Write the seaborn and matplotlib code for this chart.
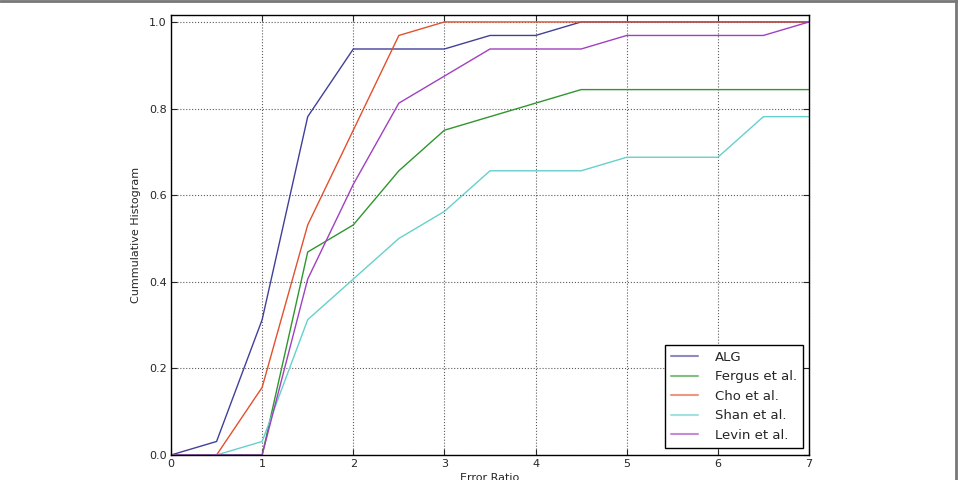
import matplotlib
matplotlib.use("Agg")
import matplotlib.pyplot as plt
import seaborn as sns
import pandas as pd
from matplotlib.lines import Line2D

x_vals = [0, 0.5, 1, 1.5, 2, 2.5, 3, 3.5, 4, 4.5, 5, 5.5, 6, 6.5, 7]
alg = [0, 0.03125, 0.3125, 0.78125, 0.9375, 0.9375, 0.9375, 0.96875, 0.96875, 1, 1, 1, 1, 1, 1]
fergus = [0, 0, 0, 0.46875, 0.53125, 0.65625, 0.75, 0.78125, 0.8125, 0.84375, 0.84375, 0.84375, 0.84375, 0.84375, 0.84375]
cho = [0, 0, 0.15625, 0.53125, 0.75, 0.96875, 1, 1, 1, 1, 1, 1, 1, 1, 1]
shan = [0, 0, 0.03125, 0.3125, 0.40625, 0.5, 0.5625, 0.65625, 0.65625, 0.65625, 0.6875, 0.6875, 0.6875, 0.78125, 0.78125]
levin = [0, 0, 0, 0.40625, 0.625, 0.8125, 0.875, 0.9375, 0.9375, 0.9375, 0.96875, 0.96875, 0.96875, 0.96875, 1]

series_names = ["ALG", "Fergus et al.", "Cho et al.", "Shan et al.", "Levin et al."]
series_values = [alg, fergus, cho, shan, levin]
colors = ["#40409a", "#2f962f", "#e2502e", "#66d0cc", "#a040c0"]
x_ticks = [0, 1, 2, 3, 4, 5, 6, 7]
y_ticks = [0.0, 0.2, 0.4, 0.6, 0.8, 1.0]

rows = []
for name, vals in zip(series_names, series_values):
    for xv, yv in zip(x_vals, vals):
        rows.append({"x": xv, "y": yv, "method": name})
df = pd.DataFrame(rows)

sns.set_style("ticks")
plt.rcParams["font.family"] = ["DejaVu Sans"]

fig = plt.figure(figsize=(9.58, 4.8), dpi=100)
ax = fig.add_axes([171 / 958, 1 - 455 / 480, (809 - 171) / 958, (455 - 15) / 480])

sns.lineplot(data=df, x="x", y="y", hue="method", palette=dict(zip(series_names, colors)),
             hue_order=series_names, ax=ax, linewidth=1.0, legend=False)

ax.set_xlim(0, 7)
ax.set_ylim(0, 1.016)
ax.set_xticks(x_ticks)
ax.set_yticks(y_ticks)
ax.set_xticklabels([str(t) for t in x_ticks])
ax.set_yticklabels([f"{t:.1f}" for t in y_ticks])
ax.grid(True, linestyle=":", color="#333333", linewidth=0.8, alpha=0.8)
ax.tick_params(direction="in", length=4, width=0.8, labelsize=8, top=True, right=True, pad=3)
for s in ax.spines.values():
    s.set_linewidth(1.0)
    s.set_color("black")
ax.set_xlabel("Error Ratio", fontsize=8, labelpad=3)
ax.set_ylabel("Cummulative Histogram", fontsize=8, labelpad=6)

handles = [Line2D([0], [0], color=c, lw=1.5, alpha=0.6) for c in colors]
leg = ax.legend(handles, series_names, loc="lower right", fontsize=9.5, frameon=True,
                fancybox=False, framealpha=1, edgecolor="black", borderpad=0.45,
                labelspacing=0.5, handlelength=2.0, handletextpad=1.3,
                borderaxespad=0, bbox_to_anchor=(0.9906, 0.016))
leg.get_frame().set_linewidth(1.0)

# page border lines
fig.add_artist(Line2D([0, 1], [0.998, 0.998], transform=fig.transFigure, color="#777777", lw=2))
fig.add_artist(Line2D([0.9975, 0.9975], [0, 1], transform=fig.transFigure, color="#777777", lw=2))

fig.savefig("out.png", dpi=100)
